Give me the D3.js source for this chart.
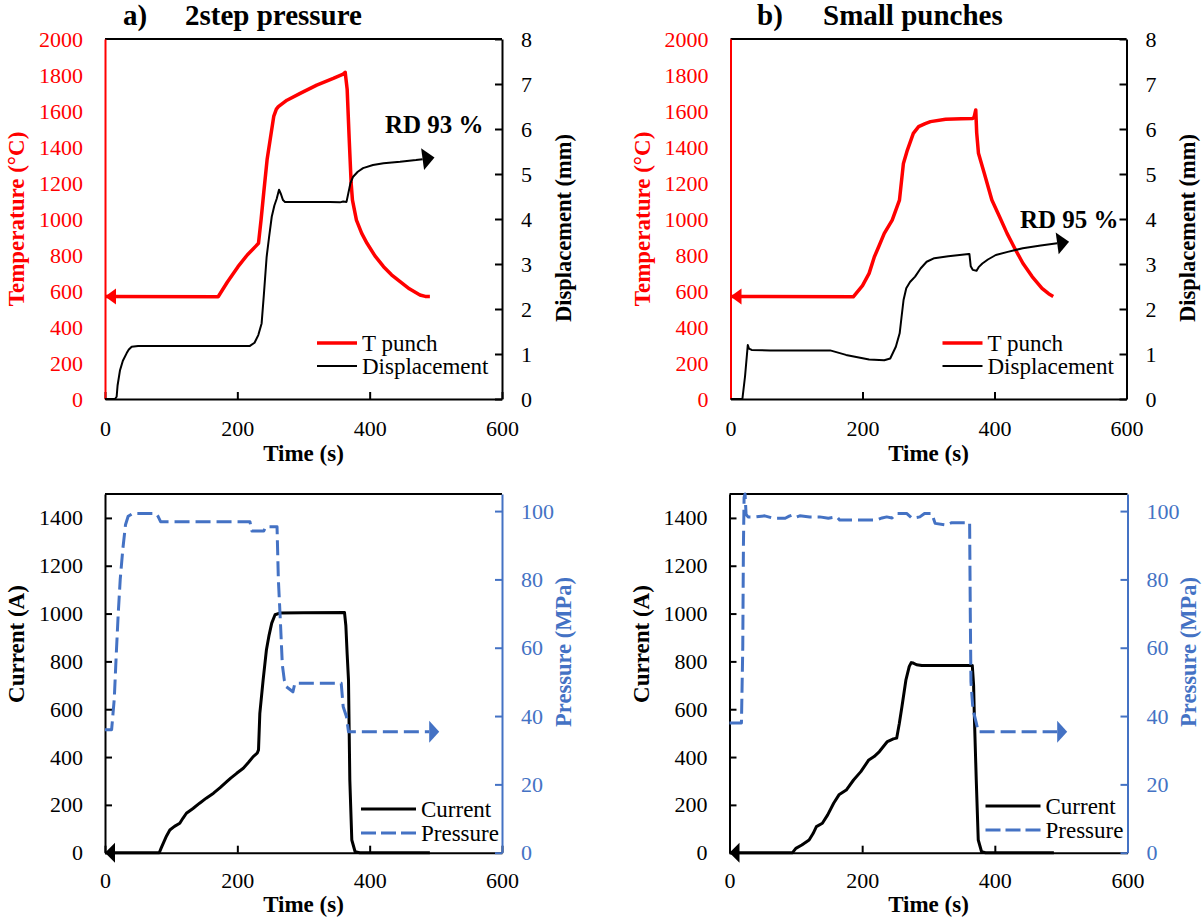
<!DOCTYPE html>
<html>
<head>
<meta charset="utf-8">
<script src="https://cdn.jsdelivr.net/npm/d3@7"></script>
<style>
  body { margin: 0; background: #fff; }
  svg text { font-family: "Liberation Serif", "Times New Roman", Times, Tinos, "DejaVu Serif", serif !important; }
</style>
</head>
<body>
<svg id="chart" width="1202" height="922"></svg>
<script>
// ---- data, [time (s), value] ----
const timeTicks = [0, 200, 400, 600];
const tempTicks = d3.range(0, 2001, 200);
const dispTicks = d3.range(0, 9, 1);
const currentTicks = d3.range(0, 1401, 200);
const pressureTicks = d3.range(0, 101, 20);

// a) 2step pressure
const tempA = [[0,570],[171,568],[185,650],[201,735],[215,800],[232,865],[236,1000],[240,1150],[245,1330],
  [250,1450],[255,1570],[259,1610],[262,1624],[275,1660],[295,1698],[320,1744],[345,1781],[360,1805],
  [363,1815],[366,1720],[369,1450],[372,1200],[374,1105],[380,994],[388,920],[396,865],[408,795],
  [421,735],[433,690],[446,652],[460,612],[476,578],[484,570],[491,570]];
const dispA = [[0,0],[15,0],[17.6,0.05],[19,0.3],[22.7,0.64],[27,0.85],[32.8,1.02],[36,1.1],[40.3,1.16],
  [50,1.18],[100,1.18],[219,1.18],[226,1.25],[231.7,1.42],[236.7,1.68],[240,2.3],[244.3,3.16],[248,3.6],
  [252,4.05],[256,4.3],[259.5,4.45],[263,4.65],[266,4.55],[269,4.42],[272,4.38],[300,4.38],[340,4.38],
  [355,4.37],[360,4.39],[365,4.38],[367.7,4.57],[371,4.8],[375,4.94],[382,5.05],[390,5.13],[405,5.2],
  [421,5.24],[446,5.27],[470,5.31],[480,5.33]];
const currentA = [[0,0],[82,0],[85,20],[88,39],[93,70],[98,95],[105,110],[113,123],[118,145],[123,165],
  [133,185],[143,207],[153,228],[164,249],[174,272],[184,297],[190,312],[199,332],[209,353],[217,378],
  [224,402],[230,416],[232,430],[234,583],[239,723],[244,849],[248,910],[252,960],[257,995],[264,1002],
  [300,1003],[362,1004],[364,950],[366,830],[368,723],[370,304],[373,53],[378,4],[385,0],[491,0]];
const pressureA = [[0,36],[10,36],[14,45],[17,58],[20,70],[23,80],[27,89],[31,96],[35,98.5],[42,99.3],
  [77,99.3],[80,98.5],[84,96.9],[219,96.9],[222,94.2],[240,94.2],[243,95.4],[260,95.4],[262,80],
  [265,68],[268,55],[271,50.5],[274,48.6],[284,47.1],[287,49.6],[357,49.6],[360,42.7],[365,39.8],
  [368,35.4],[490,35.4]];

// b) Small punches
const tempB = [[0,570],[186,568],[200,630],[210,698],[218,790],[225,850],[233,920],[245,994],[256,1105],
  [262,1309],[268,1383],[277,1476],[285,1513],[295,1530],[303,1541],[326,1554],[350,1557],[367,1559],
  [369,1565],[371.6,1606],[373,1480],[375.7,1365],[384.5,1254],[396,1105],[408,1010],[419,920],
  [431,835],[443,754],[457,680],[472,615],[482,585],[489,570]];
const dispB = [[0,0],[18,0],[22,0.5],[25,1.0],[26.2,1.2],[28,1.12],[32,1.09],[60,1.08],[100,1.08],
  [151,1.08],[175,0.98],[210,0.88],[233,0.86],[242,0.9],[250.5,1.16],[256.3,1.46],[259,1.8],[262.2,2.2],
  [266.3,2.46],[272,2.6],[279.7,2.72],[288,2.9],[297.2,3.05],[308.8,3.13],[330,3.17],[361,3.22],
  [362,3.22],[364,2.95],[367,2.87],[372.8,2.85],[376,2.93],[381.6,3.01],[390,3.1],[402,3.2],[420,3.27],
  [442.8,3.35],[470,3.41],[495,3.46]];
const currentB = [[0,0],[95,0],[100,18],[109,32],[120,53],[126,80],[131,109],[140,123],[148,158],
  [157,207],[165,242],[176,262],[187,304],[198,339],[210,388],[218,402],[226,423],[238,465],[247,476],
  [252,479],[256,540],[260,611],[266,723],[271,779],[274,795],[277,793],[282,786],[290,783],[366,783],
  [368,700],[369,583],[372,304],[375,53],[380,4],[386,0],[489,0]];
const pressureB = [[0,38],[18,38],[20,60],[21,90],[22,104],[23.5,105],[25,99],[28,98.3],[40,98.3],
  [53,98.6],[66,97.9],[84,97.9],[90,98.5],[94,98.8],[100,98.2],[106,98.6],[121,98.3],[136,98.3],
  [149,97.9],[162,98.3],[166,97.4],[176,97.4],[200,97.4],[222,97.4],[230,98],[237,98.3],[245,98],
  [252,99.3],[267,99.3],[275,97.9],[287,98.3],[294,99.3],[305,99.3],[310,96.4],[327,95.9],[335,96.6],
  [347,96.6],[362,96.6],[363,70],[364,50],[367,42],[372,38],[375,35.4],[494,35.4]];

const RED = '#FF0000';
const BLUE = '#4472C4';
const FONT = '"Liberation Serif", "Times New Roman", Times, Tinos, "DejaVu Serif", serif';

const svg = d3.select('#chart');
const defs = svg.append('defs');

// arrow heads: end ones sit after the last point, start ones put the tip on the first point
function addMarker(id, color, w, h, atStart) {
  defs.append('marker')
    .attr('id', id)
    .attr('markerUnits', 'userSpaceOnUse')
    .attr('markerWidth', w + 2).attr('markerHeight', 2 * h + 2)
    .attr('refX', atStart ? w : 0).attr('refY', 0)
    .attr('orient', atStart ? 'auto-start-reverse' : 'auto')
    .attr('overflow', 'visible')
    .append('path')
    .attr('d', `M0,${-h}L${w},0L0,${h}Z`)
    .attr('fill', color);
}
addMarker('startRed', RED, 11, 8, true);
addMarker('startBlack', '#000', 10, 10, true);
addMarker('endBlack', '#000', 12, 11, false);
addMarker('endBlue', BLUE, 10, 11, false);

function drawPanel(cfg) {
  const g = svg.append('g');
  const x = d3.scaleLinear().domain([0, 600]).range([cfg.x0, cfg.x1]);
  const yL = d3.scaleLinear().domain(cfg.leftDomain).range([cfg.yb, cfg.yt]);
  const yR = d3.scaleLinear().domain(cfg.rightDomain).range([cfg.yb, cfg.yt]);

  // top border
  g.append('line')
    .attr('x1', cfg.x0).attr('x2', cfg.x1)
    .attr('y1', cfg.yt).attr('y2', cfg.yt)
    .attr('stroke', '#000').attr('stroke-width', 2);

  const styleAxis = (sel, color) => {
    sel.attr('font-family', FONT).attr('font-size', 22);
    sel.select('.domain').attr('stroke', color).attr('stroke-width', 2);
    sel.selectAll('.tick line').attr('stroke', color).attr('stroke-width', 2);
    sel.selectAll('.tick text').attr('fill', color);
  };

  g.append('g')
    .attr('transform', `translate(0,${cfg.yb})`)
    .call(d3.axisBottom(x).tickValues(timeTicks).tickSize(-7).tickSizeOuter(0).tickPadding(cfg.xPad))
    .call(s => styleAxis(s, '#000'));

  g.append('g')
    .attr('transform', `translate(${cfg.x0},0)`)
    .call(d3.axisLeft(yL).tickValues(cfg.leftTicks).tickSize(cfg.leftTickSize)
      .tickSizeOuter(0).tickPadding(22).tickFormat(d3.format('d')))
    .call(s => styleAxis(s, cfg.leftColor));

  g.append('g')
    .attr('transform', `translate(${cfg.x1},0)`)
    .call(d3.axisRight(yR).tickValues(cfg.rightTicks).tickSize(-7)
      .tickSizeOuter(0).tickPadding(19).tickFormat(d3.format('d')))
    .call(s => styleAxis(s, cfg.rightColor));

  // axis titles
  const ymid = (cfg.yt + cfg.yb) / 2;
  g.append('text')
    .attr('transform', `translate(${cfg.x0 - 89},${cfg.leftTitleY || ymid}) rotate(-90)`)
    .attr('text-anchor', 'middle').attr('dy', '0.35em')
    .attr('fill', cfg.leftColor)
    .attr('font-size', 23).attr('font-weight', 'bold')
    .text(cfg.leftTitle);
  g.append('text')
    .attr('transform', `translate(${cfg.x1 + 61},${cfg.rightTitleY || ymid}) rotate(-90)`)
    .attr('text-anchor', 'middle').attr('dy', '0.35em')
    .attr('fill', cfg.rightColor)
    .attr('font-size', 22.5).attr('font-weight', 'bold')
    .text(cfg.rightTitle);
  g.append('text')
    .attr('x', (cfg.x0 + cfg.x1) / 2).attr('y', cfg.timeTitleY)
    .attr('text-anchor', 'middle')
    .attr('font-size', 23).attr('font-weight', 'bold')
    .text('Time (s)');

  // series
  cfg.series.forEach(s => {
    const y = s.axis === 'left' ? yL : yR;
    const line = d3.line().x(d => x(d[0])).y(d => y(d[1]));
    g.append('path')
      .datum(s.data)
      .attr('d', line)
      .attr('fill', 'none')
      .attr('stroke', s.color)
      .attr('stroke-width', s.width)
      .attr('stroke-linejoin', 'round')
      .attr('stroke-dasharray', s.dash || null)
      .attr('marker-start', s.start ? `url(#${s.start})` : null)
      .attr('marker-end', s.end ? `url(#${s.end})` : null);
  });

  // legend
  cfg.legend.rows.forEach((r, i) => {
    const ly = cfg.legend.y + i * cfg.legend.gap;
    g.append('line')
      .attr('x1', cfg.x0 + cfg.legend.dx).attr('x2', cfg.x0 + cfg.legend.dx + cfg.legend.len)
      .attr('y1', ly).attr('y2', ly)
      .attr('stroke', r.color).attr('stroke-width', r.width)
      .attr('stroke-dasharray', r.dash || null);
    g.append('text')
      .attr('x', cfg.x0 + cfg.legend.dx + cfg.legend.len + 5).attr('y', ly + 8)
      .attr('font-size', 23)
      .text(r.label);
  });

  // RD label
  if (cfg.note) {
    g.append('text')
      .attr('x', cfg.note.x).attr('y', cfg.note.y)
      .attr('font-size', 25).attr('font-weight', 'bold')
      .text(cfg.note.text);
  }
}

function topPanel(x0, x1, temp, disp, note) {
  drawPanel({
    x0, x1, yt: 39, yb: 399, xPad: 21, timeTitleY: 461,
    leftDomain: [0, 2000], leftTicks: tempTicks, leftTickSize: 0, leftColor: RED,
    rightDomain: [0, 8], rightTicks: dispTicks, rightColor: '#000',
    leftTitle: 'Temperature (°C)', rightTitle: 'Displacement (mm)', rightTitleY: 228,
    series: [
      { data: temp, axis: 'left', color: RED, width: 3.5, start: 'startRed' },
      { data: disp, axis: 'right', color: '#000', width: 2, end: 'endBlack' }
    ],
    legend: { dx: 212, len: 40, y: 343, gap: 23, rows: [
      { label: 'T punch', color: RED, width: 3.5 },
      { label: 'Displacement', color: '#000', width: 2 }
    ] },
    note
  });
}

function bottomPanel(x0, x1, current, pressure, legY) {
  drawPanel({
    x0, x1, yt: 494, yb: 852.7, xPad: 20, timeTitleY: 912,
    leftDomain: [0, 1500], leftTicks: currentTicks, leftTickSize: -7, leftColor: '#000',
    rightDomain: [0, 105], rightTicks: pressureTicks, rightColor: BLUE,
    leftTitle: 'Current (A)', rightTitle: 'Pressure (MPa)', leftTitleY: 644, rightTitleY: 652,
    series: [
      { data: current, axis: 'left', color: '#000', width: 3, start: 'startBlack' },
      { data: pressure, axis: 'right', color: BLUE, width: 3, dash: '15,6', end: 'endBlue' }
    ],
    legend: { dx: 256, len: 55, y: legY, gap: 24, rows: [
      { label: 'Current', color: '#000', width: 3 },
      { label: 'Pressure', color: BLUE, width: 3, dash: '15,5' }
    ] }
  });
}

topPanel(105, 502, tempA, dispA, { x: 385, y: 133, text: 'RD 93 %' });
topPanel(730.5, 1126.5, tempB, dispB, { x: 1020, y: 228, text: 'RD 95 %' });
bottomPanel(105, 502, currentA, pressureA, 809);
bottomPanel(729.5, 1127.5, currentB, pressureB, 806);

// panel titles
[[123, 'a)', 185, '2step pressure'], [757, 'b)', 823, 'Small punches']].forEach(([xa, ta, xb, tb]) => {
  svg.append('text').attr('x', xa).attr('y', 25)
    .attr('font-size', 29).attr('font-weight', 'bold').text(ta);
  svg.append('text').attr('x', xb).attr('y', 25)
    .attr('font-size', 29).attr('font-weight', 'bold').text(tb);
});
</script>
</body>
</html>
